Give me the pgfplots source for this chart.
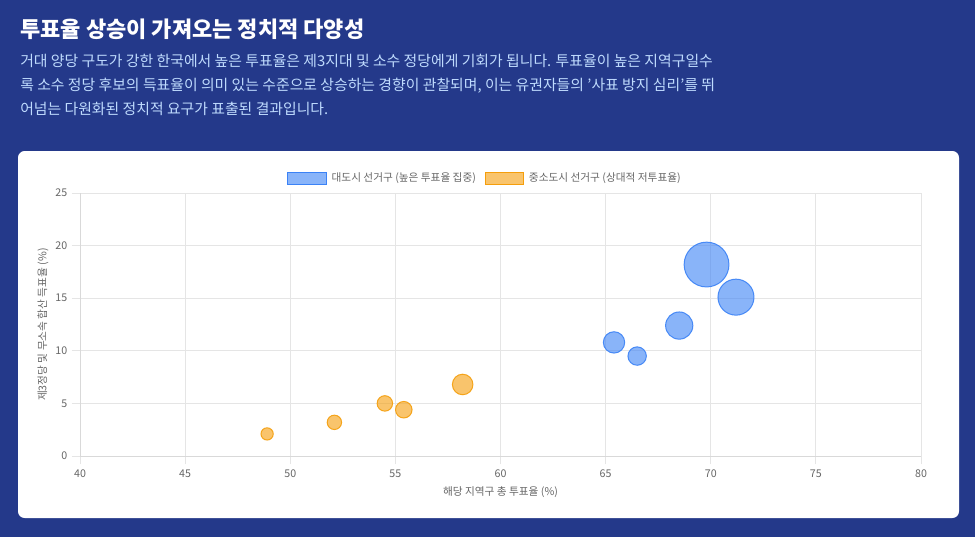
\documentclass[border=0pt]{standalone}
\usepackage{fontspec}
\setmainfont{Noto Sans CJK KR}
\usepackage{pgfplots}
\pgfplotsset{compat=1.18}
\definecolor{bgblue}{HTML}{24398A}
\definecolor{subtxt}{HTML}{BFDBFE}
\definecolor{bblue}{HTML}{3B82F6}
\definecolor{borange}{HTML}{F59E0B}
\definecolor{gridc}{HTML}{E5E5E5}
\definecolor{axc}{HTML}{D9D9D9}
\definecolor{txtc}{HTML}{666666}

\pgfplotstableread{
x y r
69.8 18.2 16.8
71.2 15.1 13.5
68.5 12.4 10.2
65.4 10.8 8.0
66.5 9.5 6.9
}\bigcity

\pgfplotstableread{
x y r
48.9 2.1 4.6
52.1 3.2 5.4
54.5 5.0 5.8
55.4 4.4 6.2
58.2 6.8 7.7
}\smallcity

\begin{document}
\begin{tikzpicture}
\useasboundingbox (0,0) rectangle (731.25pt,-402.75pt);
\fill[bgblue] (0,0) rectangle (731.25pt,-402.75pt);
\fill[white, rounded corners=5pt] (13.5pt,-113.25pt) rectangle (719.25pt,-388.5pt);
\node[anchor=base west, text=white, font=\fontsize{16.5}{19}\selectfont\bfseries, inner sep=0pt] at (15pt,-27.8pt) {투표율 상승이 가져오는 정치적 다양성};
\node[anchor=base west, text=subtxt, font=\fontsize{11.15}{13}\selectfont, inner sep=0pt] at (15pt,-49.5pt) {거대 양당 구도가 강한 한국에서 높은 투표율은 제3지대 및 소수 정당에게 기회가 됩니다. 투표율이 높은 지역구일수};
\node[anchor=base west, text=subtxt, font=\fontsize{11.15}{13}\selectfont, inner sep=0pt] at (15pt,-67.9pt) {록 소수 정당 후보의 득표율이 의미 있는 수준으로 상승하는 경향이 관찰되며, 이는 유권자들의 '사표 방지 심리'를 뛰};
\node[anchor=base west, text=subtxt, font=\fontsize{11.15}{13}\selectfont, inner sep=0pt] at (15pt,-86.2pt) {어넘는 다원화된 정치적 요구가 표출된 결과입니다.};
\begin{axis}[
  at={(60pt,-342pt)}, anchor=south west,
  scale only axis, width=630.75pt, height=197.25pt,
  xmin=40, xmax=80, ymin=0, ymax=25,
  xtick distance=5, ytick distance=5,
  grid=major, major grid style={draw=gridc, line width=0.6pt},
  axis line style={draw=axc, line width=0.6pt},
  tick align=outside, major tick length=6pt,
  tick style={draw=gridc, line width=0.6pt},
  axis x line*=bottom, axis y line*=left,
  /pgf/number format/assume math mode=true,
  tick label style={font=\fontsize{8}{10}\selectfont, text=txtc},
  xticklabel style={text height=6pt, text depth=0pt, yshift=-0.5pt},
  label style={font=\fontsize{8}{10}\selectfont, text=txtc},
  xlabel={해당 지역구 총 투표율 (\%)},
  ylabel={제3정당 및 무소속 합산 득표율 (\%)},
  xlabel style={at={(axis description cs:0.5,-0.137)}, anchor=center},
  ylabel style={at={(axis description cs:-0.044,0.5)}, anchor=center},
  legend columns=2,
  legend style={at={(0.482,1.057)}, anchor=center, draw=none, fill=none,
    font=\fontsize{8}{10}\selectfont, text=txtc,
    /tikz/every even column/.append style={column sep=4.5pt},
    /tikz/every odd column/.append style={column sep=1.5pt},
    nodes={inner sep=2pt}},
  clip=false,
]
\addplot[scatter, only marks, mark=*,
  scatter/use mapped color={draw=bblue, draw opacity=0.9, fill=bblue, fill opacity=0.6},
  visualization depends on={\thisrow{r} \as \rr},
  scatter/@pre marker code/.append style={/tikz/mark size=\rr},
  line width=0.75pt, forget plot] table[x=x, y=y] {\bigcity};
\addplot[scatter, only marks, mark=*,
  scatter/use mapped color={draw=borange, draw opacity=0.9, fill=borange, fill opacity=0.6},
  visualization depends on={\thisrow{r} \as \rr},
  scatter/@pre marker code/.append style={/tikz/mark size=\rr},
  line width=0.75pt, forget plot] table[x=x, y=y] {\smallcity};
\addlegendimage{legend image code/.code={\draw[draw=bblue, fill=bblue, fill opacity=0.6, line width=0.75pt] (0pt,-4.5pt) rectangle (29pt,4.5pt);}}
\addlegendentry{대도시 선거구 (높은 투표율 집중)}
\addlegendimage{legend image code/.code={\draw[draw=borange, fill=borange, fill opacity=0.6, line width=0.75pt] (0pt,-4.5pt) rectangle (29pt,4.5pt);}}
\addlegendentry{중소도시 선거구 (상대적 저투표율)}
\end{axis}
\end{tikzpicture}
\end{document}
